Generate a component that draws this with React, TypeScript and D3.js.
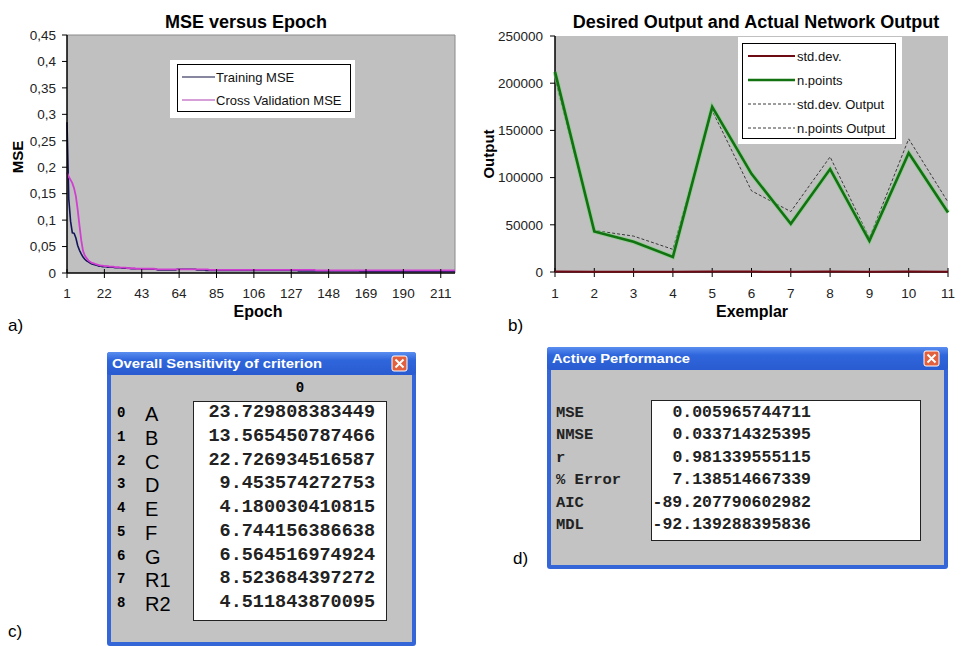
import React from 'react';
import * as d3 from 'd3';

// ---------- Panel a: MSE versus Epoch ----------
const epochTicks = [1, 22, 43, 64, 85, 106, 127, 148, 169, 190, 211];
const mseTicks = [0, 0.05, 0.1, 0.15, 0.2, 0.25, 0.3, 0.35, 0.4, 0.45];

const trainingMSE = [
  0.285, 0.140, 0.098, 0.076, 0.075, 0.066, 0.052, 0.043, 0.036, 0.030, 0.026, 0.023, 0.021, 0.019, 0.017, 0.016, 0.015, 0.014, 0.013, 0.013,
  0.012, 0.012, 0.012, 0.011, 0.011, 0.011, 0.011, 0.010, 0.010, 0.010, 0.010, 0.009, 0.009, 0.009, 0.009, 0.009, 0.008, 0.008, 0.008, 0.008,
  0.008, 0.008, 0.008, 0.007, 0.007, 0.007, 0.007, 0.007, 0.007, 0.007, 0.007, 0.006, 0.006, 0.006, 0.006, 0.006, 0.006, 0.006, 0.006, 0.006,
  0.006, 0.006, 0.007, 0.007, 0.007, 0.007, 0.007, 0.007, 0.007, 0.007, 0.007, 0.007, 0.007, 0.006, 0.006, 0.006, 0.006, 0.006, 0.005, 0.005,
  0.005, 0.005, 0.005, 0.005, 0.005, 0.005, 0.005, 0.005, 0.005, 0.005, 0.005, 0.005, 0.005, 0.005, 0.005, 0.005, 0.005, 0.005, 0.005, 0.005,
  0.005, 0.005, 0.005, 0.005, 0.005, 0.005, 0.005, 0.005, 0.005, 0.005, 0.005, 0.005, 0.005, 0.005, 0.005, 0.005, 0.005, 0.005, 0.005, 0.005,
  0.005, 0.005, 0.005, 0.005, 0.005, 0.005, 0.005, 0.005, 0.005, 0.005, 0.004, 0.004, 0.004, 0.004, 0.004, 0.004, 0.004, 0.004, 0.004, 0.004,
  0.004, 0.004, 0.004, 0.004, 0.004, 0.004, 0.004, 0.004, 0.004, 0.004, 0.004, 0.004, 0.004, 0.004, 0.004, 0.004, 0.004, 0.004, 0.004, 0.004,
  0.004, 0.004, 0.004, 0.004, 0.004, 0.003, 0.003, 0.003, 0.003, 0.003, 0.003, 0.003, 0.003, 0.003, 0.003, 0.003, 0.003, 0.003, 0.003, 0.003,
  0.003, 0.003, 0.003, 0.003, 0.003, 0.003, 0.003, 0.003, 0.003, 0.003, 0.003, 0.003, 0.003, 0.003, 0.003, 0.003, 0.003, 0.003, 0.003, 0.003,
  0.003, 0.003, 0.003, 0.003, 0.003, 0.003, 0.003, 0.003, 0.003, 0.003, 0.003, 0.003, 0.003, 0.003, 0.003, 0.003, 0.003, 0.003, 0.003,
];

const crossValMSE = [
  0.190, 0.182, 0.176, 0.170, 0.160, 0.145, 0.120, 0.090, 0.062, 0.042, 0.033, 0.028, 0.024, 0.021, 0.019, 0.018, 0.017, 0.016, 0.015, 0.014,
  0.014, 0.013, 0.013, 0.013, 0.012, 0.012, 0.012, 0.011, 0.011, 0.011, 0.010, 0.010, 0.010, 0.010, 0.009, 0.009, 0.009, 0.009, 0.009, 0.008,
  0.008, 0.008, 0.008, 0.008, 0.008, 0.008, 0.008, 0.008, 0.008, 0.008, 0.007, 0.007, 0.007, 0.007, 0.007, 0.007, 0.007, 0.007, 0.007, 0.007,
  0.007, 0.007, 0.007, 0.007, 0.007, 0.007, 0.007, 0.007, 0.007, 0.007, 0.007, 0.007, 0.007, 0.007, 0.007, 0.007, 0.007, 0.007, 0.007, 0.007,
  0.006, 0.006, 0.006, 0.006, 0.006, 0.006, 0.006, 0.006, 0.006, 0.006, 0.006, 0.006, 0.006, 0.006, 0.006, 0.006, 0.006, 0.006, 0.006, 0.006,
  0.006, 0.006, 0.006, 0.006, 0.006, 0.006, 0.006, 0.006, 0.006, 0.006, 0.006, 0.006, 0.006, 0.006, 0.006, 0.006, 0.006, 0.006, 0.006, 0.006,
  0.006, 0.006, 0.006, 0.006, 0.006, 0.006, 0.006, 0.006, 0.006, 0.006, 0.006, 0.006, 0.006, 0.006, 0.006, 0.006, 0.006, 0.006, 0.006, 0.006,
  0.005, 0.005, 0.005, 0.005, 0.005, 0.005, 0.005, 0.005, 0.005, 0.005, 0.005, 0.005, 0.005, 0.005, 0.005, 0.005, 0.005, 0.005, 0.005, 0.005,
  0.005, 0.005, 0.005, 0.005, 0.005, 0.005, 0.005, 0.005, 0.005, 0.005, 0.005, 0.005, 0.005, 0.005, 0.005, 0.005, 0.005, 0.005, 0.005, 0.005,
  0.005, 0.005, 0.005, 0.005, 0.005, 0.005, 0.005, 0.005, 0.005, 0.005, 0.005, 0.005, 0.005, 0.005, 0.005, 0.005, 0.005, 0.005, 0.005, 0.005,
  0.005, 0.005, 0.005, 0.005, 0.005, 0.005, 0.005, 0.005, 0.005, 0.005, 0.005, 0.005, 0.005, 0.005, 0.005, 0.005, 0.005, 0.005, 0.005,
];

// ---------- Panel b: Desired Output and Actual Network Output ----------
const exemplars = [1, 2, 3, 4, 5, 6, 7, 8, 9, 10, 11];
const outputTicks = [0, 50000, 100000, 150000, 200000, 250000];
const stdDev = [400, 300, 300, 200, 500, 400, 300, 400, 200, 500, 300];
const nPoints = [212000, 43000, 32000, 16000, 175000, 104000, 51000, 109000, 33000, 126000, 63000];
const stdDevOutput = [500, 400, 300, 300, 500, 400, 400, 500, 300, 500, 400];
const nPointsOutput = [205000, 44000, 38000, 24000, 171000, 86000, 64000, 122000, 36000, 141000, 74000];

// ---------- Panel c: sensitivity table ----------
const sensitivityInputs = ['A', 'B', 'C', 'D', 'E', 'F', 'G', 'R1', 'R2'];
const sensitivityValues = [
  23.729808383449, 13.565450787466, 22.726934516587, 9.453574272753, 4.180030410815,
  6.744156386638, 6.564516974924, 8.523684397272, 4.511843870095,
];

// ---------- Panel d: performance table ----------
const perfLabels = ['MSE', 'NMSE', 'r', '% Error', 'AIC', 'MDL'];
const perfValues = [0.005965744711, 0.033714325395, 0.981339555115, 7.138514667339, -89.207790602982, -92.139288395836];

const SANS = 'Arial, "Liberation Sans", sans-serif';
const MONO = '"Courier New", "Liberation Mono", monospace';
const PLOT_BG = '#c0c0c0';

function MsePanel() {
  const x = d3.scaleLinear().domain([1, trainingMSE.length]).range([67, 455]);
  const y = d3.scaleLinear().domain([0, 0.45]).range([273, 35]);
  const line = d3.line<number>().x((_, i) => x(i + 1)).y((d) => y(d));
  const fmt = (v: number) => String(v).replace('.', ',');
  return (
    <g>
      <rect x={67} y={35} width={388} height={238} fill={PLOT_BG} />
      <polyline points="67,35 455,35 455,273" fill="none" stroke="#8a8a8a" strokeWidth={1} />
      <text x={246} y={28} textAnchor="middle" fontFamily={SANS} fontWeight="bold" fontSize={18}>MSE versus Epoch</text>
      {/* legend */}
      <rect x={170} y={60} width={185} height={58} fill="#fff" />
      <rect x={177.5} y={64.5} width={173} height={47} fill="#fff" stroke="#000" strokeWidth={1} />
      <line x1={182} x2={215} y1={77} y2={77} stroke="#101040" strokeWidth={1.2} />
      <text x={216} y={81.5} fontFamily={SANS} fontSize={13} fill="#111">Training MSE</text>
      <line x1={182} x2={215} y1={100} y2={100} stroke="#b040b0" strokeWidth={1.2} />
      <text x={216} y={104.5} fontFamily={SANS} fontSize={13} fill="#111">Cross Validation MSE</text>
      {/* series */}
      <path d={line(trainingMSE) ?? ''} fill="none" stroke="#14145a" strokeWidth={1.6} />
      <path d={line(crossValMSE) ?? ''} fill="none" stroke="#d040d0" strokeWidth={1.8} />
      {/* y axis */}
      <line x1={67} x2={67} y1={35} y2={273} stroke="#000" strokeWidth={1.5} />
      {mseTicks.map((t) => (
        <g key={t}>
          <line x1={62} x2={67} y1={y(t)} y2={y(t)} stroke="#000" />
          <text x={56} y={y(t)} dy="0.35em" textAnchor="end" fontFamily={SANS} fontSize={13.5} fill="#222">{fmt(t)}</text>
        </g>
      ))}
      {/* x axis */}
      <line x1={67} x2={455} y1={273} y2={273} stroke="#000" strokeWidth={1.5} />
      {epochTicks.map((t) => (
        <g key={t}>
          <line x1={x(t)} x2={x(t)} y1={269} y2={278} stroke="#000" />
          <text x={x(t)} y={298} textAnchor="middle" fontFamily={SANS} fontSize={13.5} fill="#222">{t}</text>
        </g>
      ))}
      <text x={258} y={317} textAnchor="middle" fontFamily={SANS} fontWeight="bold" fontSize={16}>Epoch</text>
      <text transform="translate(23,157) rotate(-90)" textAnchor="middle" fontFamily={SANS} fontWeight="bold" fontSize={15}>MSE</text>
      <text x={8} y={331} fontFamily={SANS} fontSize={17}>a)</text>
    </g>
  );
}

function OutputPanel() {
  const x = d3.scaleLinear().domain([1, 11]).range([555, 948]);
  const y = d3.scaleLinear().domain([0, 250000]).range([272, 36]);
  const line = d3.line<number>().x((_, i) => x(exemplars[i])).y((d) => y(d));
  return (
    <g>
      <rect x={555} y={36} width={393} height={236} fill={PLOT_BG} />
      <text x={756} y={28} textAnchor="middle" fontFamily={SANS} fontWeight="bold" fontSize={18}>Desired Output and Actual Network Output</text>
      {/* y axis */}
      <line x1={555} x2={555} y1={36} y2={272} stroke="#000" strokeWidth={1.5} />
      {outputTicks.map((t) => (
        <g key={t}>
          <line x1={550} x2={555} y1={y(t)} y2={y(t)} stroke="#000" />
          <text x={543} y={y(t)} dy="0.35em" textAnchor="end" fontFamily={SANS} fontSize={13.5} fill="#222">{t}</text>
        </g>
      ))}
      {/* x axis */}
      <line x1={555} x2={948} y1={272} y2={272} stroke="#000" strokeWidth={1.5} />
      {exemplars.map((t) => (
        <g key={t}>
          <line x1={x(t)} x2={x(t)} y1={268} y2={277} stroke="#000" />
          <text x={x(t)} y={298} textAnchor="middle" fontFamily={SANS} fontSize={13.5} fill="#222">{t}</text>
        </g>
      ))}
      {/* series */}
      <path d={line(nPointsOutput) ?? ''} fill="none" stroke="#3a3a3a" strokeWidth={1} strokeDasharray="3,2" />
      <path d={line(nPoints) ?? ''} fill="none" stroke="#7fd07f" strokeWidth={4.5} opacity={0.6} />
      <path d={line(nPoints) ?? ''} fill="none" stroke="#127212" strokeWidth={2.6} />
      <path d={line(stdDevOutput) ?? ''} fill="none" stroke="#3a3a3a" strokeWidth={1} strokeDasharray="3,2" />
      <path d={line(stdDev) ?? ''} fill="none" stroke="#6e0a14" strokeWidth={2} />
      {/* legend */}
      <rect x={738} y={37} width={164} height={107} fill="#fff" />
      <rect x={742.5} y={43.5} width={153} height={95} fill="#fff" stroke="#000" strokeWidth={1} />
      {[
        { label: 'std.dev.', color: '#6e0a14', dash: '', w: 2 },
        { label: 'n.points', color: '#127212', dash: '', w: 2.6 },
        { label: 'std.dev. Output', color: '#3a3a3a', dash: '3,2', w: 1 },
        { label: 'n.points Output', color: '#3a3a3a', dash: '3,2', w: 1 },
      ].map((e, i) => (
        <g key={e.label}>
          <line x1={748} x2={795} y1={56 + i * 24} y2={56 + i * 24} stroke={e.color} strokeWidth={e.w} strokeDasharray={e.dash} />
          <text x={797} y={60.5 + i * 24} fontFamily={SANS} fontSize={13} fill="#111">{e.label}</text>
        </g>
      ))}
      <text x={752} y={317} textAnchor="middle" fontFamily={SANS} fontWeight="bold" fontSize={16}>Exemplar</text>
      <text transform="translate(494,154) rotate(-90)" textAnchor="middle" fontFamily={SANS} fontWeight="bold" fontSize={15}>Output</text>
      <text x={508} y={331} fontFamily={SANS} fontSize={17}>b)</text>
    </g>
  );
}

function XpWindow({ x, y, w, h, title, titleLen, gid }: { x: number; y: number; w: number; h: number; title: string; titleLen: number; gid: string }) {
  return (
    <g>
      <defs>
        <linearGradient id={gid} x1="0" x2="0" y1="0" y2="1">
          <stop offset="0" stopColor="#5a8ef0" />
          <stop offset="0.35" stopColor="#2f66dc" />
          <stop offset="1" stopColor="#2a5bd0" />
        </linearGradient>
      </defs>
      <rect x={x} y={y} width={w} height={h} fill="#3466d8" rx={3} />
      <rect x={x} y={y} width={w} height={23} fill={`url(#${gid})`} rx={3} />
      <rect x={x + 4} y={y + 23} width={w - 8} height={h - 27} fill="#c3c3c3" />
      <text x={x + 5} y={y + 16} fontFamily={SANS} fontWeight="bold" fontSize={13.5} fill="#fff" textLength={titleLen} lengthAdjust="spacingAndGlyphs">{title}</text>
      <rect x={x + w - 24} y={y + 4} width={15} height={15} rx={2} fill="#e2603e" stroke="#fff" strokeWidth={1} />
      <path d={`M${x + w - 20.5},${y + 7.5} L${x + w - 12.5},${y + 15.5} M${x + w - 12.5},${y + 7.5} L${x + w - 20.5},${y + 15.5}`} stroke="#fff" strokeWidth={2} />
    </g>
  );
}

function SensitivityPanel() {
  const row = d3.scaleLinear().domain([0, 8]).range([417, 607]);
  return (
    <g>
      <XpWindow x={107} y={352} w={309} h={294} title="Overall Sensitivity of criterion" titleLen={210} gid="tb-c" />
      <text x={300} y={392} textAnchor="middle" fontFamily={MONO} fontWeight="bold" fontSize={14}>0</text>
      <rect x={193.5} y={401.5} width={193} height={219} fill="#fff" stroke="#222" strokeWidth={1} />
      {sensitivityInputs.map((name, i) => (
        <g key={name}>
          <text x={117} y={row(i)} fontFamily={MONO} fontWeight="bold" fontSize={14}>{i}</text>
          <text x={145} y={row(i) + 4} fontFamily={SANS} fontSize={20}>{name}</text>
          <text x={375} y={row(i)} textAnchor="end" fontFamily={MONO} fontWeight="bold" fontSize={18.5} fill="#222">{sensitivityValues[i].toFixed(12)}</text>
        </g>
      ))}
      <text x={8} y={637} fontFamily={SANS} fontSize={17}>c)</text>
    </g>
  );
}

function PerformancePanel() {
  const row = d3.scaleLinear().domain([0, 5]).range([417, 529]);
  return (
    <g>
      <XpWindow x={547} y={347} w={401} h={222} title="Active Performance" titleLen={138} gid="tb-d" />
      <rect x={651.5} y={400.5} width={269} height={140} fill="#fff" stroke="#222" strokeWidth={1} />
      {perfLabels.map((name, i) => (
        <g key={name}>
          <text x={556} y={row(i)} fontFamily={MONO} fontWeight="bold" fontSize={15.5} fill="#222">{name}</text>
          <text x={811} y={row(i)} textAnchor="end" fontFamily={MONO} fontWeight="bold" fontSize={16.5} fill="#222">{perfValues[i].toFixed(12)}</text>
        </g>
      ))}
      <text x={513} y={564} fontFamily={SANS} fontSize={17}>d)</text>
    </g>
  );
}

export default function App() {
  return (
    <svg width={961} height={646} viewBox="0 0 961 646" style={{ position: 'absolute', left: 0, top: 0, background: '#fff' }}>
      <rect width={961} height={646} fill="#fff" />
      <MsePanel />
      <OutputPanel />
      <SensitivityPanel />
      <PerformancePanel />
    </svg>
  );
}
